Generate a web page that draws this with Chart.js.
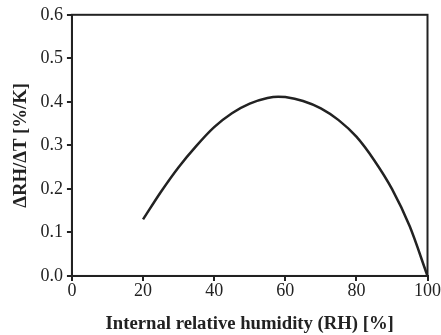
<!DOCTYPE html>
<html>
<head>
<meta charset="utf-8">
<script src="https://cdn.jsdelivr.net/npm/chart.js@4.4.1/dist/chart.umd.min.js"></script>
<style>
  html, body { margin: 0; padding: 0; background: #fff; }
  #wrap { width: 441px; height: 335px; }
</style>
</head>
<body>
<div id="wrap"><canvas id="chart"></canvas></div>
<script>
// valores
const humidity = [20, 25, 30, 35, 40, 45, 50, 55, 58, 60, 65, 70, 75, 80, 85, 90, 95, 100];
const sensitivity = [0.13, 0.193, 0.250, 0.299, 0.342, 0.374, 0.396, 0.409, 0.412, 0.411, 0.402, 0.385, 0.358, 0.320, 0.266, 0.200, 0.114, 0.0];

const xTitle = 'Internal relative humidity (RH) [%]';
const yTitle = 'ΔRH/ΔT [%/K]';

const ink = '#222';
const serif = "'Liberation Serif', 'Times New Roman', serif";

// marco completo alrededor del area del grafico
const frame = {
    id: 'frame',
    afterDraw(chart) {
        const { ctx, chartArea: a } = chart;
        ctx.save();
        ctx.strokeStyle = ink;
        ctx.lineWidth = 2;
        ctx.strokeRect(a.left, a.top, a.right - a.left, a.bottom - a.top);
        ctx.restore();
    }
};

new Chart(document.getElementById('chart'), {
    type: 'line',
    data: {
        datasets: [{
            data: humidity.map((h, i) => ({ x: h, y: sensitivity[i] })),
            borderColor: ink,
            borderWidth: 2.5,
            pointRadius: 0,
            cubicInterpolationMode: 'monotone',
            fill: false
        }]
    },
    options: {
        responsive: true,
        maintainAspectRatio: false,
        animation: false,
        layout: { padding: { top: 8, right: 0, left: 10, bottom: 0 } },
        plugins: { legend: { display: false }, tooltip: { enabled: false } },
        scales: {
            x: {
                type: 'linear',
                min: 0,
                max: 100,
                ticks: { stepSize: 20, color: ink, font: { family: serif, size: 18 }, padding: 0, maxRotation: 0 },
                grid: { drawOnChartArea: false, color: ink, tickLength: 5, lineWidth: 2 },
                border: { color: ink, width: 2 },
                title: { display: true, text: xTitle, color: ink, font: { family: serif, size: 18.7, weight: 'bold' }, padding: { top: 10, bottom: 0 } }
            },
            y: {
                min: 0,
                max: 0.6,
                ticks: { stepSize: 0.1, color: ink, font: { family: serif, size: 18 }, padding: 4, callback: v => v.toFixed(1) },
                grid: { drawOnChartArea: false, color: ink, tickLength: 5, lineWidth: 2 },
                border: { color: ink, width: 2 },
                title: { display: true, text: yTitle, color: ink, font: { family: serif, size: 18.7, weight: 'bold' }, padding: { top: 0, bottom: 4 } }
            }
        }
    },
    plugins: [frame]
});
</script>
</body>
</html>
